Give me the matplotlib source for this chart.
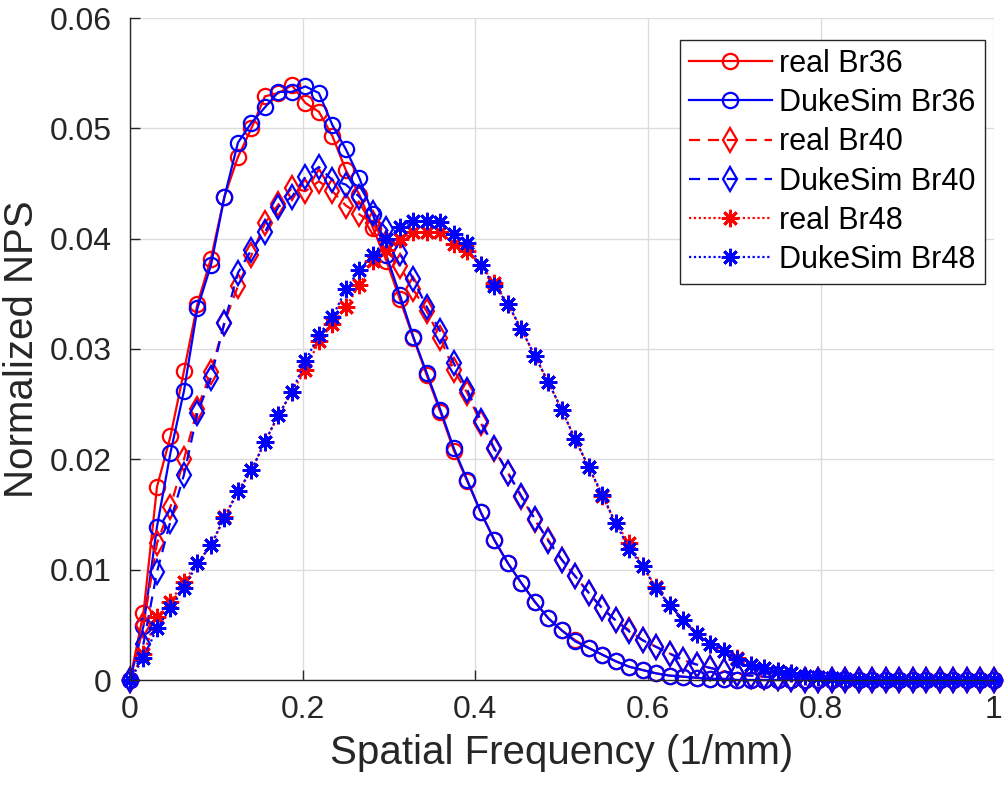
import numpy as np
import matplotlib
matplotlib.use("Agg")
import matplotlib.pyplot as plt
from matplotlib.ticker import FixedLocator, FuncFormatter

plt.rcParams['font.family'] = ['Liberation Sans', 'DejaVu Sans']

# frequency samples (1/mm)
freq = np.linspace(0, 1, 65)

real_br36 = [0.0, 0.0061, 0.0175, 0.0221, 0.0280, 0.0341, 0.0382, 0.0438, 0.0474, 0.0500,
             0.0529, 0.0532, 0.0539, 0.0523, 0.0515, 0.0493, 0.0462, 0.0440, 0.0410, 0.0380,
             0.0345, 0.0310, 0.0276, 0.0243, 0.0208, 0.0180, 0.0152, 0.0127, 0.0106, 0.0088,
             0.0071, 0.0056, 0.0045, 0.0036, 0.0029, 0.0023, 0.0017, 0.0012, 0.0009, 0.0006,
             0.0004, 0.0003, 0.0002, 0.0001, 0.0001, 0.0, 0.0, 0.0, 0.0, 0.0,
             0.0, 0.0, 0.0, 0.0, 0.0, 0.0, 0.0, 0.0, 0.0, 0.0,
             0.0, 0.0, 0.0, 0.0, 0.0]
duke_br36 = [0.0, 0.0049, 0.0139, 0.0206, 0.0262, 0.0337, 0.0376, 0.0438, 0.0487, 0.0505,
             0.0519, 0.0533, 0.0533, 0.0538, 0.0532, 0.0503, 0.0481, 0.0455, 0.0422, 0.0385,
             0.0349, 0.0311, 0.0278, 0.0245, 0.0210, 0.0181, 0.0152, 0.0127, 0.0106, 0.0088,
             0.0071, 0.0056, 0.0045, 0.0035, 0.0029, 0.0023, 0.0017, 0.0012, 0.0009, 0.0006,
             0.0004, 0.0003, 0.0002, 0.0001, 0.0001, 0.0, 0.0, 0.0, 0.0, 0.0,
             0.0, 0.0, 0.0, 0.0, 0.0, 0.0, 0.0, 0.0, 0.0, 0.0,
             0.0, 0.0, 0.0, 0.0, 0.0]
real_br40 = [0.0, 0.0050, 0.0124, 0.0157, 0.0200, 0.0246, 0.0279, 0.0324, 0.0357, 0.0385,
             0.0414, 0.0431, 0.0446, 0.0443, 0.0452, 0.0443, 0.0430, 0.0422, 0.0414, 0.0396,
             0.0375, 0.0354, 0.0334, 0.0310, 0.0281, 0.0260, 0.0233, 0.0209, 0.0188, 0.0166,
             0.0145, 0.0127, 0.0109, 0.0094, 0.0079, 0.0065, 0.0054, 0.0045, 0.0036, 0.0030,
             0.0024, 0.0018, 0.0014, 0.0011, 0.0008, 0.0005, 0.0004, 0.0003, 0.0002, 0.0001,
             0.0, 0.0, 0.0, 0.0, 0.0, 0.0, 0.0, 0.0, 0.0, 0.0,
             0.0, 0.0, 0.0, 0.0, 0.0]
duke_br40 = [0.0, 0.0033, 0.0098, 0.0144, 0.0186, 0.0242, 0.0274, 0.0324, 0.0369, 0.0390,
             0.0406, 0.0429, 0.0438, 0.0456, 0.0465, 0.0453, 0.0449, 0.0438, 0.0423, 0.0409,
             0.0387, 0.0363, 0.0338, 0.0316, 0.0287, 0.0263, 0.0235, 0.0210, 0.0188, 0.0167,
             0.0146, 0.0126, 0.0109, 0.0094, 0.0079, 0.0065, 0.0054, 0.0044, 0.0036, 0.0030,
             0.0024, 0.0018, 0.0014, 0.0011, 0.0008, 0.0005, 0.0004, 0.0003, 0.0002, 0.0001,
             0.0, 0.0, 0.0, 0.0, 0.0, 0.0, 0.0, 0.0, 0.0, 0.0,
             0.0, 0.0, 0.0, 0.0, 0.0]
real_br48 = [0.0, 0.0024, 0.0057, 0.0071, 0.0089, 0.0106, 0.0122, 0.0148, 0.0171, 0.0190,
             0.0216, 0.0240, 0.0261, 0.0281, 0.0307, 0.0323, 0.0338, 0.0358, 0.0380, 0.0390,
             0.0400, 0.0406, 0.0406, 0.0406, 0.0395, 0.0389, 0.0376, 0.0360, 0.0341, 0.0318,
             0.0294, 0.0270, 0.0245, 0.0218, 0.0193, 0.0167, 0.0142, 0.0124, 0.0103, 0.0084,
             0.0068, 0.0054, 0.0042, 0.0033, 0.0026, 0.0020, 0.0014, 0.0011, 0.0008, 0.0006,
             0.0004, 0.0003, 0.0002, 0.0001, 0.0, 0.0, 0.0, 0.0, 0.0, 0.0,
             0.0, 0.0, 0.0, 0.0, 0.0]
duke_br48 = [0.0, 0.0020, 0.0047, 0.0065, 0.0083, 0.0106, 0.0122, 0.0147, 0.0171, 0.0190,
             0.0216, 0.0240, 0.0261, 0.0289, 0.0313, 0.0329, 0.0354, 0.0372, 0.0385, 0.0400,
             0.0411, 0.0416, 0.0416, 0.0415, 0.0404, 0.0396, 0.0376, 0.0357, 0.0341, 0.0318,
             0.0294, 0.0270, 0.0245, 0.0218, 0.0193, 0.0168, 0.0142, 0.0119, 0.0103, 0.0083,
             0.0068, 0.0054, 0.0042, 0.0033, 0.0026, 0.0019, 0.0014, 0.0011, 0.0008, 0.0006,
             0.0004, 0.0003, 0.0002, 0.0001, 0.0, 0.0, 0.0, 0.0, 0.0, 0.0,
             0.0, 0.0, 0.0, 0.0, 0.0]

labels = ['real Br36', 'DukeSim Br36', 'real Br40', 'DukeSim Br40', 'real Br48', 'DukeSim Br48']
x_ticks = [0, 0.2, 0.4, 0.6, 0.8, 1]
y_ticks = [0, 0.01, 0.02, 0.03, 0.04, 0.05, 0.06]

fig = plt.figure(figsize=(10.06, 7.92), dpi=100)
ax = fig.add_axes([130 / 1006, 1 - 680 / 792, 863.5 / 1006, 662 / 792])

star = (8, 2, 0)
styles = [
    (real_br36, 'red', '-', 'o', 11, 1.6),
    (duke_br36, 'blue', '-', 'o', 11, 1.6),
    (real_br40, 'red', (0, (5, 3.5)), 'd', 12, 1.6),
    (duke_br40, 'blue', (0, (5, 3.5)), 'd', 12, 1.6),
    (real_br48, 'red', (0, (1, 1.2)), star, 12.5, 2.0),
    (duke_br48, 'blue', (0, (1, 1.2)), star, 12.5, 2.0),
]
for (vals, col, ls, mk, ms, mew), lab in zip(styles, labels):
    ax.plot(freq, vals, color=col, linestyle=ls, linewidth=1.6, marker=mk,
            markersize=ms, markerfacecolor='none', markeredgecolor=col,
            markeredgewidth=mew, label=lab, clip_on=False)

ax.set_xlim(0, 1)
ax.set_ylim(0, 0.06)
ax.xaxis.set_major_locator(FixedLocator(x_ticks))
ax.yaxis.set_major_locator(FixedLocator(y_ticks))
ax.xaxis.set_major_formatter(FuncFormatter(lambda v, p: '%g' % v))
ax.yaxis.set_major_formatter(FuncFormatter(lambda v, p: '%g' % v))

ax.grid(True, color='#dcdcdc', linewidth=1.0)
ax.set_axisbelow(True)
for s in ['top', 'right']:
    ax.spines[s].set_visible(False)
for s in ['left', 'bottom']:
    ax.spines[s].set_color('#262626')
    ax.spines[s].set_linewidth(1.0)
ax.tick_params(direction='in', length=7, width=1, colors='#262626', labelsize=23)
ax.tick_params(axis='x', pad=11)
ax.tick_params(axis='y', pad=13)

ax.set_xlabel('Spatial Frequency (1/mm)', fontsize=29, color='#262626', labelpad=6)
ax.set_ylabel('Normalized NPS', fontsize=29, color='#262626', labelpad=6)

leg = ax.legend(loc='upper right', bbox_to_anchor=(0.990, 0.967), borderaxespad=0,
                fontsize=22, handlelength=2.7, labelspacing=0.3, handletextpad=0.25,
                borderpad=0.3, fancybox=False, framealpha=1, edgecolor='#262626')
leg.get_frame().set_linewidth(1.0)
for t in leg.get_texts():
    t.set_color('black')

fig.savefig('out.png', dpi=100)
